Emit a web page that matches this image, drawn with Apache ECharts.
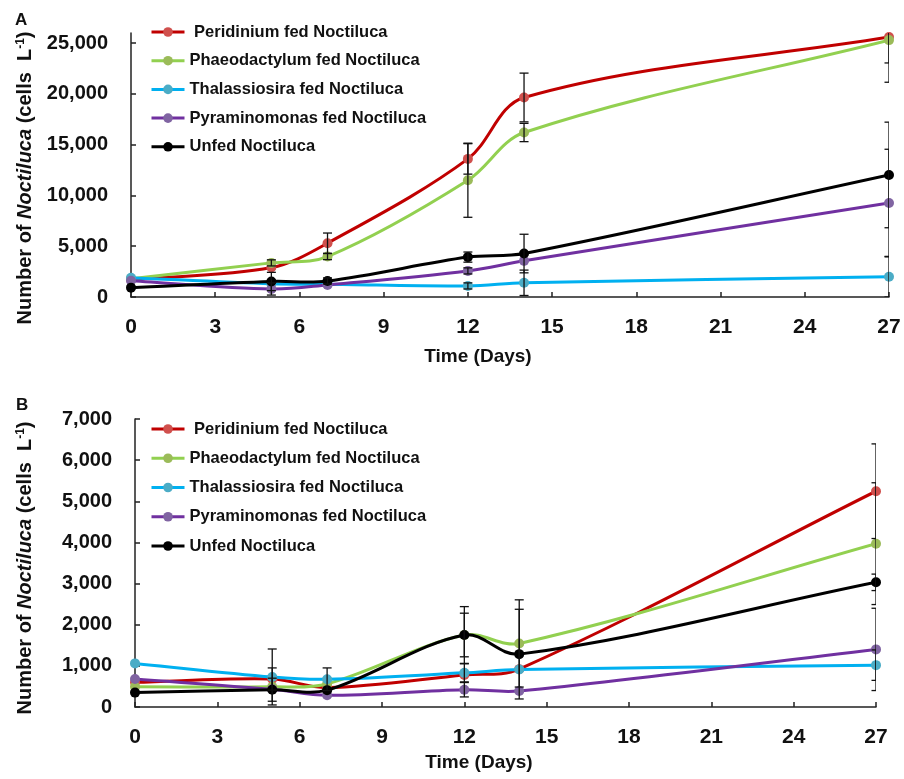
<!DOCTYPE html>
<html>
<head>
<meta charset="utf-8">
<script src="https://cdn.jsdelivr.net/npm/echarts@6/dist/echarts.min.js"></script>
<style>
html,body{margin:0;padding:0;background:#fff;}
#chart{width:904px;height:779px;}
</style>
</head>
<body>
<div id="chart"></div>
<script>
// ---------- data ----------
const days = [0, 5, 7, 12, 14, 27];
const seriesNames = [' Peridinium fed Noctiluca', 'Phaeodactylum fed Noctiluca', 'Thalassiosira fed Noctiluca', 'Pyraminomonas fed Noctiluca', 'Unfed Noctiluca'];
const xTicks = [0, 3, 6, 9, 12, 15, 18, 21, 24, 27];
const yTicksA = [0, 5000, 10000, 15000, 20000, 25000];
const yTicksB = [0, 1000, 2000, 3000, 4000, 5000, 6000, 7000];

// Panel A means
const aPeridinium    = [1700, 2900, 5300, 13600, 19650, 25600];
const aPhaeodactylum = [1800, 3360, 3980, 11500, 16200, 25300];
const aThalassiosira = [1900, 1300, 1250, 1090, 1400, 2000];
const aPyraminomonas = [1600, 790, 1190, 2570, 3560, 9250];
const aUnfed         = [920, 1530, 1580, 3930, 4280, 12020];
// Panel A error (± SD)
const aErrPeridinium    = [0, 0, 1000, 1500, 2400, 4450];
const aErrPhaeodactylum = [0, 300, 300, 3650, 900, 2250];
const aErrThalassiosira = [0, 0, 0, 300, 1250, 2000];
const aErrPyraminomonas = [0, 600, 0, 300, 0, 5300];
const aErrUnfed         = [0, 900, 300, 500, 1900, 5200];

// Panel B means
const bPeridinium    = [600, 680, 470, 780, 920, 5245];
const bPhaeodactylum = [490, 490, 560, 1750, 1545, 3970];
const bThalassiosira = [1060, 730, 675, 830, 910, 1017];
const bPyraminomonas = [680, 430, 285, 420, 390, 1400];
const bUnfed         = [350, 420, 410, 1750, 1285, 3030];
// Panel B error (± SD)
const bErrPeridinium    = [0, 270, 0, 0, 0, 1150];
const bErrPhaeodactylum = [0, 0, 0, 530, 1060, 1480];
const bErrThalassiosira = [0, 680, 275, 220, 0, 370];
const bErrPyraminomonas = [0, 0, 0, 175, 0, 1000];
const bErrUnfed         = [0, 280, 0, 690, 1090, 200];

// ---------- styles ----------
const lineColors   = ['#c00000', '#92d050', '#00b0f0', '#7030a0', '#000000'];
const markerColors = ['#d0504d', '#9bbb59', '#4bacc6', '#8064a2', '#000000'];
const FONT = 'Liberation Sans, Arial, sans-serif';
const SMOOTH = 0.34;

const panelA = [aPeridinium, aPhaeodactylum, aThalassiosira, aPyraminomonas, aUnfed];
const panelAErr = [aErrPeridinium, aErrPhaeodactylum, aErrThalassiosira, aErrPyraminomonas, aErrUnfed];
const panelB = [bPeridinium, bPhaeodactylum, bThalassiosira, bPyraminomonas, bUnfed];
const panelBErr = [bErrPeridinium, bErrPhaeodactylum, bErrThalassiosira, bErrPyraminomonas, bErrUnfed];

function pairs(vals) { return days.map((d, i) => [d, vals[i]]); }

function errData(means, errs) {
  const out = [];
  means.forEach((m, s) => {
    days.forEach((d, i) => {
      const e = errs[s][i];
      if (e > 0) out.push([d, m[i] - e, m[i] + e]);
    });
  });
  return out;
}

function renderErr(params, api) {
  const x = api.value(0), lo = api.value(1), hi = api.value(2);
  const pLo = api.coord([x, lo]);
  const pHi = api.coord([x, hi]);
  const cw = 4.5;
  const st = { stroke: '#111', lineWidth: 1.3 };
  return {
    type: 'group',
    children: [
      { type: 'line', shape: { x1: pLo[0], y1: pLo[1], x2: pHi[0], y2: pHi[1] }, style: st },
      { type: 'line', shape: { x1: pLo[0] - cw, y1: pLo[1], x2: pLo[0] + cw, y2: pLo[1] }, style: st },
      { type: 'line', shape: { x1: pHi[0] - cw, y1: pHi[1], x2: pHi[0] + cw, y2: pHi[1] }, style: st }
    ]
  };
}

// smoothed curve (spreadsheet-like), drawn through the axes' coordinate system
function makeCurveRenderer(vals, color) {
  return function (params, api) {
    if (params.dataIndex !== 0) return null;
    const p = days.map((d, i) => api.coord([d, vals[i]]));
    const n = p.length;
    const dist = (a, b) => Math.hypot(b[0] - a[0], b[1] - a[1]);
    const outCp = [], inCp = [];
    for (let i = 0; i < n; i++) {
      const prev = p[Math.max(0, i - 1)], next = p[Math.min(n - 1, i + 1)];
      const vx = next[0] - prev[0], vy = next[1] - prev[1];
      const l0 = dist(prev, p[i]), l1 = dist(p[i], next);
      const r = (l0 + l1) > 0 ? l1 / (l0 + l1) : 0.5;
      outCp[i] = [p[i][0] + vx * SMOOTH * r, p[i][1] + vy * SMOOTH * r];
      inCp[i] = [p[i][0] - vx * SMOOTH * (1 - r), p[i][1] - vy * SMOOTH * (1 - r)];
    }
    let d = 'M' + p[0][0] + ' ' + p[0][1];
    for (let i = 0; i < n - 1; i++) {
      d += ' C' + outCp[i][0] + ' ' + outCp[i][1] + ' ' + inCp[i + 1][0] + ' ' + inCp[i + 1][1] + ' ' + p[i + 1][0] + ' ' + p[i + 1][1];
    }
    return { type: 'path', shape: { pathData: d }, style: { stroke: color, lineWidth: 3, fill: null, lineJoin: 'round' } };
  };
}

function panelSeries(dataArr, axisIdx) {
  const out = [];
  dataArr.forEach((vals, s) => {
    out.push({
      type: 'custom', name: 'curve' + axisIdx + '_' + s,
      xAxisIndex: axisIdx, yAxisIndex: axisIdx,
      data: pairs(vals), clip: true, silent: true,
      renderItem: makeCurveRenderer(vals, lineColors[s]),
      z: 2 + s * 0.2
    });
    out.push({
      type: 'line', name: seriesNames[s],
      xAxisIndex: axisIdx, yAxisIndex: axisIdx,
      data: pairs(vals),
      symbol: 'circle', symbolSize: 10, showSymbol: true,
      lineStyle: { width: 0, opacity: 0, color: lineColors[s] },
      itemStyle: { color: markerColors[s] },
      z: 2.1 + s * 0.2
    });
  });
  return out;
}

const axisLineStyle = { color: '#222', width: 1.5 };

function xAxis(gridIndex) {
  return {
    type: 'value', gridIndex, min: 0, max: 27, interval: 3,
    axisLine: { show: true, lineStyle: axisLineStyle },
    axisTick: { show: true, inside: true, length: 5, lineStyle: axisLineStyle },
    splitLine: { show: false },
    axisLabel: { margin: 20, fontFamily: FONT, fontWeight: 'bold', fontSize: 21, color: '#111',
      customValues: xTicks }
  };
}
function yAxis(gridIndex, max, interval, ticks) {
  return {
    type: 'value', gridIndex, min: 0, max, interval,
    axisLine: { show: true, lineStyle: axisLineStyle },
    axisTick: { show: true, inside: true, length: 5, lineStyle: axisLineStyle, customValues: ticks },
    splitLine: { show: false },
    axisLabel: { margin: 23, fontFamily: FONT, fontWeight: 'bold', fontSize: 20, color: '#111',
      customValues: ticks,
      formatter: v => v.toLocaleString('en-US') }
  };
}

function legend(top, gap) {
  return {
    orient: 'vertical', left: 150, top, padding: 0,
    itemWidth: 33, itemHeight: 12, itemGap: gap,
    data: seriesNames.map((nm, s) => ({
      name: nm,
      lineStyle: { color: lineColors[s], width: 3, opacity: 1 },
      itemStyle: { color: markerColors[s], opacity: 1 }
    })),
    textStyle: { fontFamily: FONT, fontWeight: 'bold', fontSize: 16.5, color: '#111', lineHeight: 20 }
  };
}

function yName(y) {
  return {
    type: 'text', x: 25, y, rotation: Math.PI / 2,
    style: {
      text: '{b|Number of }{i|Noctiluca}{b| (cells  L}{s|-1}{b|)}',
      align: 'center', verticalAlign: 'middle', fill: '#111',
      rich: {
        b: { fontFamily: FONT, fontWeight: 'bold', fontSize: 20, fill: '#111' },
        i: { fontFamily: FONT, fontWeight: 'bold', fontStyle: 'italic', fontSize: 20, fill: '#111' },
        s: { fontFamily: FONT, fontWeight: 'bold', fontSize: 12, fill: '#111', padding: [0, 0, 9, 0] }
      }
    }
  };
}

const chart = echarts.init(document.getElementById('chart'), null, { renderer: 'canvas' });
chart.setOption({
  animation: false,
  backgroundColor: '#fff',
  grid: [
    { left: 131, right: 15, top: 33, height: 264 },
    { left: 135, right: 28, top: 419, height: 288 }
  ],
  xAxis: [xAxis(0), xAxis(1)],
  yAxis: [yAxis(0, 26000, 5000, yTicksA), yAxis(1, 7000, 1000, yTicksB)],
  legend: [legend(22, 8.7), legend(419, 9.25)],
  series: [
    ...panelSeries(panelA, 0),
    ...panelSeries(panelB, 1),
    { type: 'custom', name: 'errA', xAxisIndex: 0, yAxisIndex: 0, clip: true, z: 5,
      renderItem: renderErr, data: errData(panelA, panelAErr), silent: true },
    { type: 'custom', name: 'errB', xAxisIndex: 1, yAxisIndex: 1, clip: true, z: 5,
      renderItem: renderErr, data: errData(panelB, panelBErr), silent: true }
  ],
  graphic: [
    { type: 'text', left: 15, top: 12, style: { text: 'A', font: 'bold 17px ' + FONT, fill: '#111' } },
    { type: 'text', left: 16, top: 397, style: { text: 'B', font: 'bold 17px ' + FONT, fill: '#111' } },
    { type: 'text', x: 478, y: 357, style: { text: 'Time (Days)', font: 'bold 19px ' + FONT, fill: '#111', align: 'center', verticalAlign: 'middle' } },
    { type: 'text', x: 479, y: 763, style: { text: 'Time (Days)', font: 'bold 19px ' + FONT, fill: '#111', align: 'center', verticalAlign: 'middle' } },
    yName(178),
    yName(568)
  ]
});
</script>
</body>
</html>
